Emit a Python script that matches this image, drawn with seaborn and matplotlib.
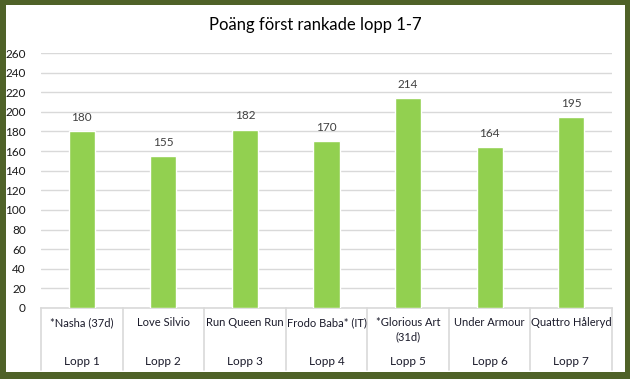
import matplotlib
matplotlib.use("Agg")
import matplotlib.pyplot as plt
from matplotlib.patches import Rectangle
import seaborn as sns
import pandas as pd

# Data
horses = ["*Nasha (37d)", "Love Silvio", "Run Queen Run", "Frodo Baba* (IT)",
          "*Glorious Art\n(31d)", "Under Armour", "Quattro Håleryd"]
races = ["Lopp 1", "Lopp 2", "Lopp 3", "Lopp 4", "Lopp 5", "Lopp 6", "Lopp 7"]
points = [180, 155, 182, 170, 214, 164, 195]
yticks = list(range(0, 261, 20))

df = pd.DataFrame({"race": races, "points": points})

sns.set_style("white")
plt.rcParams["font.family"] = ["Lato", "DejaVu Sans"]

fig = plt.figure(figsize=(6.3, 3.79), dpi=100, facecolor="#4F6228")
# white inner panel inside the olive frame
fig.patches.append(Rectangle((6 / 630, 7 / 379), 619 / 630, 367 / 379,
                             transform=fig.transFigure, facecolor="white",
                             edgecolor="none", zorder=-5))

ax = fig.add_axes([41 / 630, 71 / 379, 571 / 630, 255 / 379])
ax.set_facecolor("none")

sns.barplot(data=df, x="race", y="points", color="#92D050", width=0.32,
            saturation=1, ax=ax, zorder=3)

ax.set_ylim(0, 260)
ax.set_xlim(-0.5, len(races) - 0.5)
ax.set_yticks(yticks)
ax.tick_params(axis="y", length=0, pad=11, labelsize=8.5, labelcolor="#1a1a1a")
ax.yaxis.grid(True, color="#D9D9D9", linewidth=1, zorder=0)
ax.set_axisbelow(True)
ax.set_xticks([])
ax.set_xlabel("")
ax.set_ylabel("")
for s in ["left", "right", "top"]:
    ax.spines[s].set_visible(False)
ax.spines["bottom"].set_color("#D9D9D9")
ax.spines["bottom"].set_linewidth(1.2)

# value labels
for i, v in enumerate(points):
    ax.text(i, v + 14, str(v), ha="center", va="center", fontsize=8.5, color="#404040")

# multi-level category labels
trans = ax.get_xaxis_transform()
for i, (h, r) in enumerate(zip(horses, races)):
    ax.text(i, -0.035, h, transform=trans, ha="center", va="top",
            fontsize=8, color="#1a1a2a", linespacing=1.35)
    ax.text(i, -0.21, r, transform=trans, ha="center", va="center",
            fontsize=8.5, color="#1a1a2a")
for b in range(len(races) + 1):
    ax.plot([b - 0.5, b - 0.5], [0, -0.245], transform=trans, color="#D9D9D9",
            linewidth=1.2, clip_on=False)

fig.text(0.5, 1 - 25 / 379, "Poäng först rankade lopp 1-7", ha="center",
         va="center", fontsize=12, color="#000000")

fig.savefig("out.png", dpi=100, facecolor=fig.get_facecolor())
